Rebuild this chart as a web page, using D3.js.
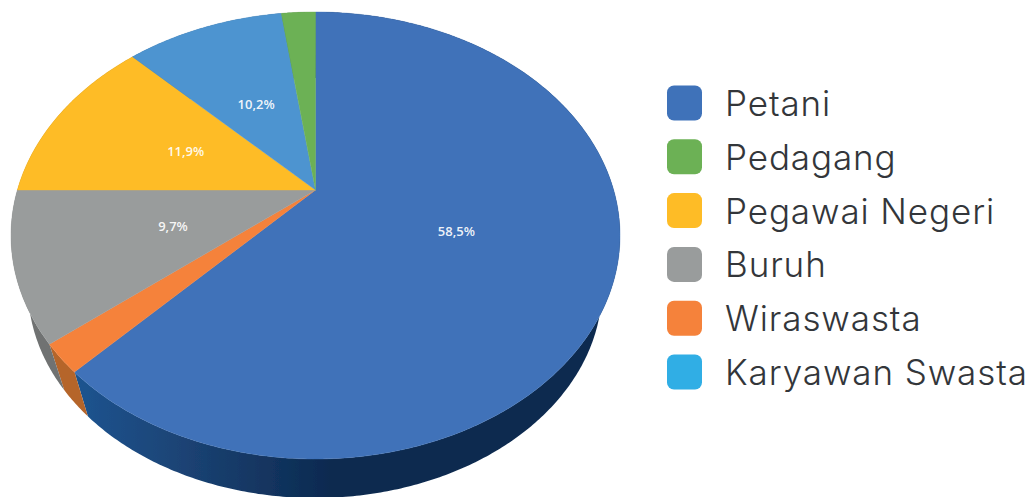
<!DOCTYPE html>
<html>
<head>
<meta charset="utf-8">
<script src="https://cdnjs.cloudflare.com/ajax/libs/d3/7.8.5/d3.min.js"></script>
<style>
  html, body { margin: 0; padding: 0; background: #fff; overflow: hidden; }
</style>
</head>
<body>
<div id="chart"></div>
<script>
const sliceNames = ["Petani", "Wiraswasta", "Buruh", "Pegawai Negeri", "Karyawan Swasta", "Pedagang"];
const sliceShares = [62.1, 2.1, 10.8, 12.6, 10.2, 2.2];
const sliceLabels = ["58,5%", "", "9,7%", "11,9%", "10,2%", ""];

const legendNames = ["Petani", "Pedagang", "Pegawai Negeri", "Buruh", "Wiraswasta", "Karyawan Swasta"];
const legendColors = ["#3f72b9", "#6cb155", "#febc26", "#999c9c", "#f5823b", "#30aee5"];

const topColors = {
  "Petani": "#3f72b9", "Wiraswasta": "#f5823b", "Buruh": "#999c9c",
  "Pegawai Negeri": "#febc26", "Karyawan Swasta": "#4e94d0", "Pedagang": "#6cb155"
};
const wallColors = {
  "Petani": "url(#wallBlue)", "Wiraswasta": "#b5652b", "Buruh": "#6f7272",
  "Pegawai Negeri": "#a87d18", "Karyawan Swasta": "#2f5f8a", "Pedagang": "#44753a"
};

const width = 1033, height = 497;

const svg = d3.select("#chart").append("svg")
  .attr("width", width)
  .attr("height", height)
  .style("display", "block");

const defs = svg.append("defs");

const wallGrad = defs.append("linearGradient")
  .attr("id", "wallBlue")
  .attr("gradientUnits", "userSpaceOnUse")
  .attr("x1", 75).attr("x2", 330).attr("y1", 0).attr("y2", 0);
wallGrad.append("stop").attr("offset", 0).attr("stop-color", "#1a5490");
wallGrad.append("stop").attr("offset", 0.35).attr("stop-color", "#1d4679");
wallGrad.append("stop").attr("offset", 1).attr("stop-color", "#0c2a50");

defs.append("filter").attr("id", "soft")
  .append("feGaussianBlur").attr("stdDeviation", 0.6);

// top face and bottom rim of the tilted disc, both in unit coordinates
const xTop = d3.scaleLinear().domain([-1, 1]).range([11, 620]);
const yTop = d3.scaleLinear().domain([-1, 1]).range([12, 459]);
const xBottom = d3.scaleLinear().domain([-1, 1]).range([28, 602]);
const yBottom = d3.scaleLinear().domain([-1, 1]).range([78, 498]);

// the slices meet above the middle of the ellipse (perspective)
const apexY = 190;
const v = -yTop.invert(apexY);

// point on the flat disc -> unit coordinates after the perspective shift
function project(angle, r) {
  const px = Math.sin(angle) * r;
  const py = -Math.cos(angle) * r;
  const d = 1 - v * py;
  return [px * Math.sqrt(1 - v * v) / d, (py - v) / d];
}

const pie = d3.pie().sort(null).value(d => d.share);
const arcs = pie(sliceNames.map((name, i) => ({ name: name, share: sliceShares[i], label: sliceLabels[i] })));

const line = d3.line();

function rim(a0, a1) {
  const n = Math.max(2, Math.ceil((a1 - a0) / 0.01));
  return d3.range(n + 1).map(i => project(a0 + (a1 - a0) * i / n, 1));
}

const pieG = svg.append("g").attr("filter", "url(#soft)");

// side wall first, top face goes over it
pieG.selectAll("path.wall")
  .data(arcs)
  .join("path")
    .attr("class", "wall")
    .attr("fill", d => wallColors[d.data.name])
    .attr("d", d => {
      const pts = rim(d.startAngle, d.endAngle);
      const top = pts.map(p => [xTop(p[0]), yTop(p[1])]);
      const bottom = pts.map(p => [xBottom(p[0]), yBottom(p[1])]).reverse();
      return line(top.concat(bottom)) + "Z";
    });

pieG.selectAll("path.face")
  .data(arcs)
  .join("path")
    .attr("class", "face")
    .attr("fill", d => topColors[d.data.name])
    .attr("stroke", d => topColors[d.data.name])
    .attr("stroke-width", 0.4)
    .attr("d", d => {
      const top = rim(d.startAngle, d.endAngle).map(p => [xTop(p[0]), yTop(p[1])]);
      return line([[xTop(0), apexY]].concat(top)) + "Z";
    });

// data labels
svg.selectAll("text.value")
  .data(arcs.filter(d => d.data.label))
  .join("text")
    .attr("class", "value")
    .attr("x", d => xTop(project((d.startAngle + d.endAngle) / 2, 0.49)[0]))
    .attr("y", d => yTop(project((d.startAngle + d.endAngle) / 2, 0.49)[1]))
    .attr("dy", "0.4em")
    .attr("text-anchor", "middle")
    .attr("fill", "#fff")
    .attr("fill-opacity", 0.92)
    .style("font-family", "'Open Sans', sans-serif")
    .style("font-weight", 600)
    .style("font-size", "13px")
    .text(d => d.data.label);

// legend
const legendY = d3.scalePoint().domain(legendNames).range([103, 372]);

const legend = svg.selectAll("g.legend")
  .data(legendNames)
  .join("g")
    .attr("class", "legend")
    .attr("transform", d => `translate(0,${legendY(d)})`);

legend.append("rect")
  .attr("x", 667)
  .attr("y", -17.5)
  .attr("width", 35)
  .attr("height", 35)
  .attr("rx", 7)
  .attr("fill", (d, i) => legendColors[i]);

legend.append("text")
  .attr("x", 725)
  .attr("y", 13)
  .attr("fill", "#33363a")
  .style("font-family", "Inter, sans-serif")
  .style("font-weight", 300)
  .style("font-size", "35px")
  .style("letter-spacing", "0.9px")
  .text(d => d);
</script>
</body>
</html>
